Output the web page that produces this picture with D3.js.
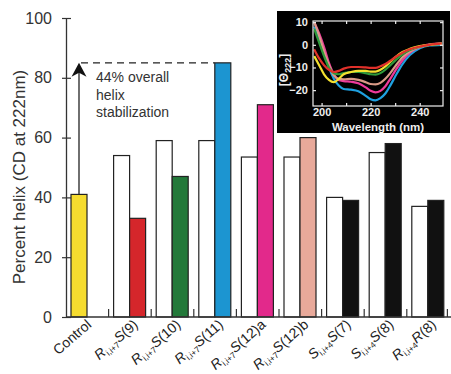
<!DOCTYPE html>
<html>
<head>
<meta charset="utf-8">
<script src="https://cdn.jsdelivr.net/npm/d3@7"></script>
<style>
  body { margin: 0; background: #fff; }
  svg { display: block; font-family: "Liberation Sans", Arial, sans-serif; }
</style>
</head>
<body>
<div id="chart"></div>
<script>
// bar data: percent helix (CD at 222nm)
const groups = ["Control", "R9", "R10", "R11", "R12a", "R12b", "S7", "S8", "R8"];
const unstapled = [null, 54, 59, 59, 53.5, 53.5, 40, 55, 37];
const stapled = [41, 33, 47, 85, 71, 60, 39, 58, 39];
const barColors = ["#f6dc2f", "#d5262b", "#23793a", "#1c95d1", "#e2298b", "#e8a99a", "#111", "#111", "#111"];
const yTicks = [0, 20, 40, 60, 80, 100];
const bestValue = 85;

// x labels, as [text, style] pieces
const labelParts = [
  [["Control", ""]],
  [["R", "it"], ["i,i+7", "sub"], ["S", "it"], ["(9)", ""]],
  [["R", "it"], ["i,i+7", "sub"], ["S", "it"], ["(10)", ""]],
  [["R", "it"], ["i,i+7", "sub"], ["S", "it"], ["(11)", ""]],
  [["R", "it"], ["i,i+7", "sub"], ["S", "it"], ["(12)a", ""]],
  [["R", "it"], ["i,i+7", "sub"], ["S", "it"], ["(12)b", ""]],
  [["S", "it"], ["i,i+4", "sub"], ["S", "it"], ["(7)", ""]],
  [["S", "it"], ["i,i+4", "sub"], ["S", "it"], ["(8)", ""]],
  [["R", "it"], ["i,i+4", "sub"], ["R", "it"], ["(8)", ""]]
];

// CD spectra inset
const wavelengths = [197, 199, 201, 203, 205, 207, 209, 212, 215, 218, 220, 222, 224, 226, 228, 230, 233, 236, 240, 244, 249];
const cdBlue    = [8, 3, -3, -10, -15, -18, -19.5, -19.8, -20.5, -22.5, -24, -24.5, -23.5, -21.5, -18, -14, -8.5, -4.5, -1.5, -0.3, 0];
const cdMagenta = [10, 5, -1, -8, -13, -15.5, -16, -16.3, -17, -18.8, -20.3, -21, -20.3, -18.3, -15, -11.5, -6.8, -3.5, -1, 0.2, 0.6];
const cdPeach   = [10, 4, -3, -9, -13.5, -15, -15.2, -15, -15.5, -16.5, -17.3, -17.5, -16.8, -15, -12.5, -9.5, -5.5, -3, -1, 0, 0.4];
const cdGreen   = [7, 1, -5, -10, -12.5, -13, -12.5, -12, -12, -12.5, -13, -13.2, -12.5, -11, -9, -7, -4.2, -2.3, -0.8, 0, 0.4];
const cdYellow  = [-5, -9, -13, -15.5, -16.5, -15, -13, -12, -11.5, -11.5, -11.8, -11.8, -11, -9.5, -7.5, -5.5, -3.2, -1.8, -0.6, 0, 0.5];
const cdRed     = [-2, -6, -9, -11, -12, -11.5, -10.5, -9.8, -9.8, -10, -10.2, -10.2, -9.5, -8.5, -7, -5.5, -3.5, -2, -0.8, 0, 0.5];
const cdSeries = [
  { values: cdBlue, color: "#1fa0e0" },
  { values: cdMagenta, color: "#ee3a9a" },
  { values: cdPeach, color: "#d99a86" },
  { values: cdGreen, color: "#2f9a3a" },
  { values: cdYellow, color: "#f3e030" },
  { values: cdRed, color: "#e0302a" }
];

const width = 451;
const height = 374;

const svg = d3.select("#chart")
  .append("svg")
  .attr("width", width)
  .attr("height", height);

// scales
const x = d3.scaleBand().domain(groups).range([66, 66 + 42.6 * 9]).padding(0);
const x1 = d3.scaleBand().domain(["u", "s"]).range([5, 37]).padding(0);
const y = d3.scaleLinear().domain([0, 100]).range([317, 18]);

// bars
const bars = [];
groups.forEach((g, i) => {
  if (unstapled[i] != null) {
    bars.push({ g: g, slot: "u", v: unstapled[i], fill: "#fff" });
    bars.push({ g: g, slot: "s", v: stapled[i], fill: barColors[i] });
  } else {
    bars.push({ g: g, slot: "u", v: stapled[i], fill: barColors[i] });
  }
});

svg.selectAll(".bar")
  .data(bars)
  .enter().append("rect")
  .attr("class", "bar")
  .attr("x", d => x(d.g) + x1(d.slot))
  .attr("width", x1.bandwidth())
  .attr("y", d => y(d.v))
  .attr("height", d => y(0) - y(d.v))
  .attr("fill", d => d.fill)
  .attr("stroke", "#222")
  .attr("stroke-width", 1.2);

// y-axis
const yAxis = svg.append("g")
  .attr("transform", "translate(66,0)")
  .call(d3.axisLeft(y).tickValues(yTicks).tickSizeOuter(0).tickPadding(8));
yAxis.select(".domain").attr("stroke", "#333").attr("stroke-width", 1.3);
yAxis.selectAll(".tick line").attr("x1", -4).attr("x2", 5).attr("stroke", "#333").attr("stroke-width", 1.2);
yAxis.selectAll(".tick text").attr("font-size", 16).attr("fill", "#333");

// x-axis baseline + group separators
svg.append("line")
  .attr("x1", 66).attr("x2", width)
  .attr("y1", y(0)).attr("y2", y(0))
  .attr("stroke", "#333").attr("stroke-width", 1.3);

const seps = groups.slice(1).map(g => x(g)).concat([x.range()[1] - 2]);
svg.selectAll(".sep")
  .data(seps)
  .enter().append("line")
  .attr("x1", d => d).attr("x2", d => d)
  .attr("y1", y(0)).attr("y2", y(0) - 8)
  .attr("stroke", "#333").attr("stroke-width", 1.2);

// x labels
const labels = svg.selectAll(".xlab")
  .data(labelParts)
  .enter().append("text")
  .attr("class", "xlab")
  .attr("text-anchor", "end")
  .attr("font-size", 14)
  .attr("fill", "#222")
  .attr("transform", (d, i) => `translate(${x(groups[i]) + x.bandwidth() / 2 + (i === 0 ? 5 : 9)},${326}) rotate(-41)`);

labels.each(function(parts) {
  const t = d3.select(this);
  let shifted = false;
  parts.forEach(p => {
    const ts = t.append("tspan").text(p[0]);
    if (p[1] === "it") ts.attr("font-style", "italic");
    if (p[1] === "sub") {
      ts.attr("font-size", 8.5).attr("dy", 3);
      shifted = true;
    } else if (shifted) {
      ts.attr("dy", -3);
      shifted = false;
    }
  });
});

// y label
svg.append("text")
  .attr("transform", "translate(25,177) rotate(-90)")
  .attr("text-anchor", "middle")
  .attr("font-size", 17)
  .attr("fill", "#333")
  .text("Percent helix (CD at 222nm)");

// dashed line at best value + arrow from control
const arrowX = x("Control") + x1("u") + x1.bandwidth() / 2;
svg.append("line")
  .attr("x1", arrowX + 2).attr("x2", x("R11") + x1("s"))
  .attr("y1", y(bestValue)).attr("y2", y(bestValue))
  .attr("stroke", "#222").attr("stroke-width", 1.3)
  .attr("stroke-dasharray", "7,5");

svg.append("line")
  .attr("x1", arrowX).attr("x2", arrowX)
  .attr("y1", y(stapled[0])).attr("y2", y(bestValue) + 8)
  .attr("stroke", "#222").attr("stroke-width", 1.3);

svg.append("path")
  .attr("transform", `translate(${arrowX},${y(bestValue)})`)
  .attr("d", "M0,0 L7.5,14 L0,10 L-7.5,14 Z")
  .attr("fill", "#111");

const note = svg.append("text")
  .attr("font-size", 14)
  .attr("fill", "#333");
["44% overall", "helix", "stabilization"].forEach((s, i) => {
  note.append("tspan").attr("x", 96).attr("y", 82 + i * 17.5).text(s);
});

// ---- inset: CD spectra ----
const inset = svg.append("g");
inset.append("rect")
  .attr("x", 277).attr("y", 11)
  .attr("width", 173).attr("height", 122)
  .attr("fill", "#000");

const ix = d3.scaleLinear().domain([196.5, 249.5]).range([313, 443]);
const iy = d3.scaleLinear().domain([-27, 10.5]).range([106, 21]);

inset.append("clipPath").attr("id", "clip")
  .append("rect")
  .attr("x", 313).attr("y", 21)
  .attr("width", 130).attr("height", 85);

const line = d3.line()
  .x((d, i) => ix(wavelengths[i]))
  .y(d => iy(d))
  .curve(d3.curveMonotoneX);

inset.append("g")
  .attr("clip-path", "url(#clip)")
  .selectAll("path")
  .data(cdSeries)
  .enter().append("path")
  .attr("d", d => line(d.values))
  .attr("fill", "none")
  .attr("stroke", d => d.color)
  .attr("stroke-width", 2.2);

inset.append("rect")
  .attr("x", 313).attr("y", 21)
  .attr("width", 130).attr("height", 85)
  .attr("fill", "none")
  .attr("stroke", "#eee").attr("stroke-width", 1.2);

const ixTicks = [200, 210, 220, 230, 240];
const iyTicks = [10, 0, -10, -20];

const ib = inset.append("g").attr("transform", "translate(0,106)")
  .call(d3.axisBottom(ix).tickValues(ixTicks).tickSize(-3).tickSizeOuter(0).tickPadding(2)
    .tickFormat(d => d % 20 === 0 ? d : ""));
const it = inset.append("g").attr("transform", "translate(0,21)")
  .call(d3.axisTop(ix).tickValues(ixTicks).tickSize(-3).tickSizeOuter(0).tickFormat(""));
const il = inset.append("g").attr("transform", "translate(313,0)")
  .call(d3.axisLeft(iy).tickValues(iyTicks).tickSize(-3).tickSizeOuter(0).tickPadding(5));
const ir = inset.append("g").attr("transform", "translate(443,0)")
  .call(d3.axisRight(iy).tickValues(iyTicks).tickSize(-3).tickSizeOuter(0).tickFormat(""));

[ib, it, il, ir].forEach(a => {
  a.select(".domain").remove();
  a.selectAll(".tick line").attr("stroke", "#eee").attr("stroke-width", 1.2);
  a.selectAll(".tick text")
    .attr("fill", "#eee")
    .attr("font-size", 11)
    .attr("font-weight", "bold")
    .attr("font-family", "\"Liberation Sans\", Arial, sans-serif");
});

inset.append("text")
  .attr("x", 378).attr("y", 131)
  .attr("text-anchor", "middle")
  .attr("font-size", 11.5)
  .attr("font-weight", "bold")
  .attr("fill", "#eee")
  .text("Wavelength (nm)");

const thetaLab = inset.append("text")
  .attr("transform", "translate(288,70) rotate(-90)")
  .attr("text-anchor", "middle")
  .attr("font-size", 12)
  .attr("font-weight", "bold")
  .attr("fill", "#eee");
thetaLab.append("tspan").text("[Θ");
thetaLab.append("tspan").attr("font-size", 9).attr("dy", 3).text("222");
thetaLab.append("tspan").attr("dy", -3).text("]");
</script>
</body>
</html>
